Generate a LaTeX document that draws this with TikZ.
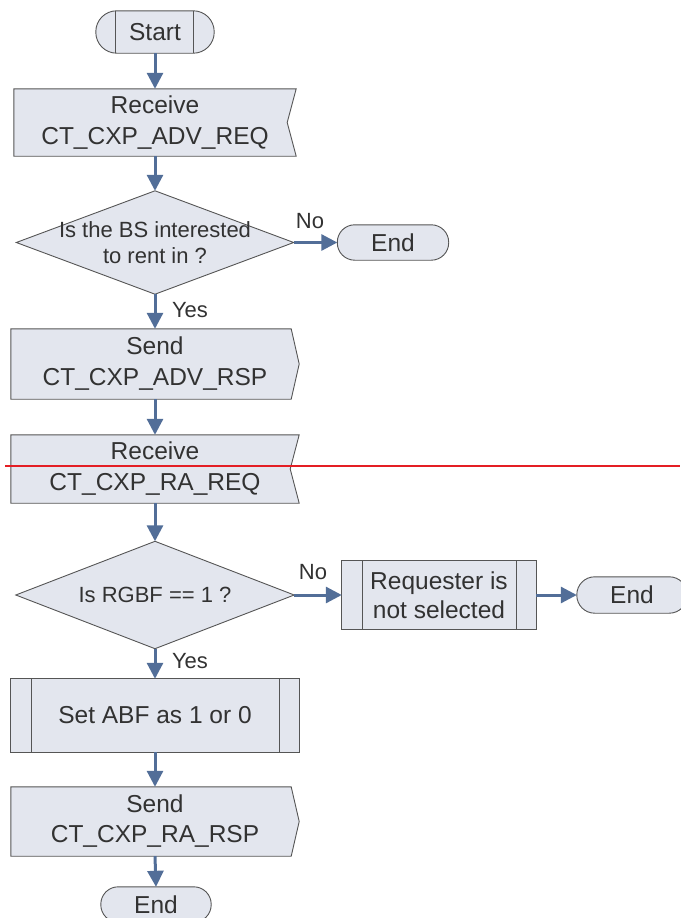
\documentclass[tikz,border=0pt]{standalone}
\usepackage{fontspec}
\setmainfont{Liberation Sans}
\usetikzlibrary{arrows.meta,backgrounds}
\definecolor{boxfill}{RGB}{227,230,238}
\definecolor{boxline}{RGB}{85,85,85}
\definecolor{arrowblue}{RGB}{82,110,152}
\definecolor{txt}{RGB}{50,50,50}
\definecolor{redline}{RGB}{228,30,36}
\tikzset{
 base/.style={rectangle, inner sep=0pt, align=center, text=txt, font=\fontsize{24.5}{31}\selectfont},
 dectext/.style={base, font=\fontsize{22}{26}\selectfont},
 outline/.style={draw=boxline, fill=boxfill, line width=0.9pt},
 barline/.style={draw=boxline, line width=0.9pt},
 arr/.style={draw=arrowblue, line width=3pt, -{Triangle[length=16pt,width=16pt]}},
 lbl/.style={text=txt, font=\fontsize{22}{26}\selectfont, inner sep=0pt},
}
\begin{document}
\begin{tikzpicture}[x=1pt,y=-1pt]
\clip (0,0) rectangle (680,918);
% nodes
\node[base, minimum width=118pt, minimum height=42pt] (start) at (155,32) {Start};
\node[base, minimum width=282pt, minimum height=67pt] (rcv1) at (155,122.5) {Receive\\CT\_CXP\_ADV\_REQ};
\node[dectext, minimum width=277pt, minimum height=103pt] (dec1) at (155,242.5) {Is the BS interested\\to rent in ?};
\node[base, minimum width=111pt, minimum height=35pt] (end1) at (393,242.5) {End};
\node[base, minimum width=288pt, minimum height=70pt] (send1) at (155,364) {Send\\CT\_CXP\_ADV\_RSP};
\node[base, minimum width=288pt, minimum height=68pt] (rcv2) at (155,469) {Receive\\CT\_CXP\_RA\_REQ};
\node[dectext, minimum width=278pt, minimum height=107pt] (dec2) at (155,595) {Is RGBF == 1 ?};
\node[base, minimum width=194pt, minimum height=69pt, font=\fontsize{24.5}{29}\selectfont] (req) at (439,595) {Requester is\\not selected};
\node[base, minimum width=110pt, minimum height=36pt] (end2) at (632,595) {End};
\node[base, minimum width=288pt, minimum height=73pt] (setabf) at (155,715.5) {Set ABF as 1 or 0};
\node[base, minimum width=288pt, minimum height=69pt, font=\fontsize{24.5}{30}\selectfont] (send2) at (155,821.5) {Send\\CT\_CXP\_RA\_RSP};
\node[base, minimum width=110pt, minimum height=35pt] (end3) at (156,904.5) {End};
% labels
\node[lbl] (no1) at (310,221) {No};
\node[lbl] (yes1) at (190,310) {Yes};
\node[lbl] (no2) at (313,572) {No};
\node[lbl] (yes2) at (190,661) {Yes};
% shapes
\begin{scope}[on background layer]
\draw[outline, rounded corners=20.9pt] (start.south west) rectangle (start.north east);
\draw[barline] ([xshift=20pt]start.north west) -- ([xshift=20pt]start.south west);
\draw[barline] ([xshift=-21pt]start.north east) -- ([xshift=-21pt]start.south east);
\draw[outline] (rcv1.north west) -- (rcv1.north east) -- ([xshift=-9pt]rcv1.east) -- (rcv1.south east) -- (rcv1.south west) -- cycle;
\draw[outline] (dec1.north) -- (dec1.east) -- (dec1.south) -- (dec1.west) -- cycle;
\draw[outline, rounded corners=17.4pt] (end1.south west) rectangle (end1.north east);
\draw[outline] (send1.north west) -- ([xshift=-8pt]send1.north east) -- (send1.east) -- ([xshift=-8pt]send1.south east) -- (send1.south west) -- cycle;
\draw[outline] (rcv2.north west) -- (rcv2.north east) -- ([xshift=-9pt]rcv2.east) -- (rcv2.south east) -- (rcv2.south west) -- cycle;
\draw[outline] (dec2.north) -- (dec2.east) -- (dec2.south) -- (dec2.west) -- cycle;
\draw[outline] (req.south west) rectangle (req.north east);
\draw[barline] ([xshift=21pt]req.north west) -- ([xshift=21pt]req.south west);
\draw[barline] ([xshift=-20pt]req.north east) -- ([xshift=-20pt]req.south east);
\draw[outline, rounded corners=17.9pt] (end2.south west) rectangle (end2.north east);
\draw[outline] (setabf.south west) rectangle (setabf.north east);
\draw[barline] ([xshift=21pt]setabf.north west) -- ([xshift=21pt]setabf.south west);
\draw[barline] ([xshift=-20pt]setabf.north east) -- ([xshift=-20pt]setabf.south east);
\draw[outline] (send2.north west) -- ([xshift=-8pt]send2.north east) -- (send2.east) -- ([xshift=-8pt]send2.south east) -- (send2.south west) -- cycle;
\draw[outline, rounded corners=17.4pt] (end3.south west) rectangle (end3.north east);
\end{scope}
% connectors
\draw[arr] (start.south) -- (rcv1.north);
\draw[arr] (rcv1.south) -- (dec1.north);
\draw[arr] (dec1.east) -- (end1.west);
\draw[arr] (dec1.south) -- (send1.north);
\draw[arr] (send1.south) -- (rcv2.north);
\draw[arr] (rcv2.south) -- (dec2.north);
\draw[arr] (dec2.east) -- (req.west);
\draw[arr] (req.east) -- (end2.west);
\draw[arr] (dec2.south) -- (setabf.north);
\draw[arr] (setabf.south) -- (send2.north);
\draw[arr] (send2.south) -- (end3.north);
% red line
\coordinate (redA) at (5,466);
\coordinate (redB) at (680,466);
\draw[redline, line width=1.5pt] (redA) -- (redB);
\end{tikzpicture}
\end{document}
